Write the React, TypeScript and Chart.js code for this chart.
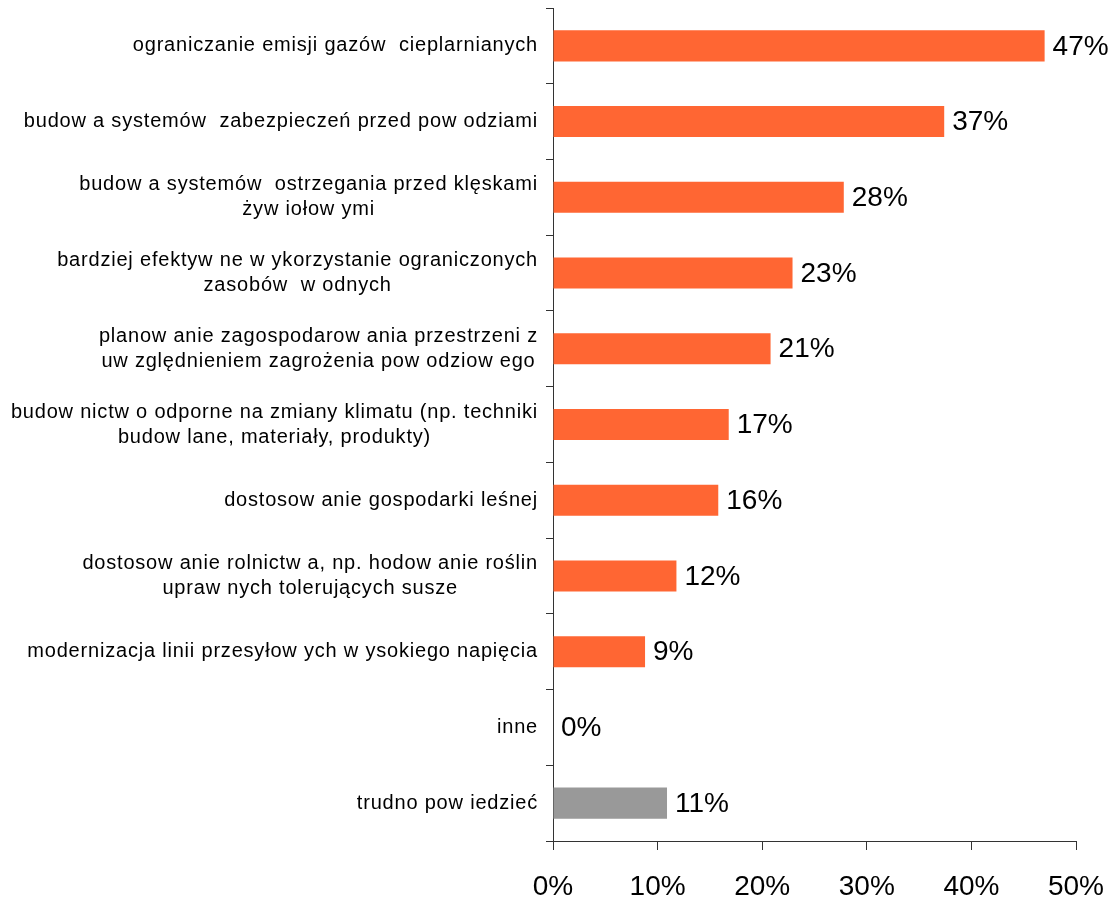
import React, { useEffect, useRef } from "react";
import { Chart, registerables } from "chart.js";

Chart.register(...registerables);

const categories: string[][] = [
  ["ograniczanie emisji gazów  cieplarnianych"],
  ["budow a systemów  zabezpieczeń przed pow odziami"],
  ["budow a systemów  ostrzegania przed klęskami", "żyw iołow ymi"],
  ["bardziej efektyw ne w ykorzystanie ograniczonych", "zasobów  w odnych"],
  ["planow anie zagospodarow ania przestrzeni z", "uw zględnieniem zagrożenia pow odziow ego"],
  ["budow nictw o odporne na zmiany klimatu (np. techniki", "budow lane, materiały, produkty)"],
  ["dostosow anie gospodarki leśnej"],
  ["dostosow anie rolnictw a, np. hodow anie roślin", "upraw nych tolerujących susze"],
  ["modernizacja linii przesyłow ych w ysokiego napięcia"],
  ["inne"],
  ["trudno pow iedzieć"],
];

const values: number[] = [47.0, 37.4, 27.8, 22.9, 20.8, 16.8, 15.8, 11.8, 8.8, 0, 10.9];
const valueLabels: string[] = ["47%", "37%", "28%", "23%", "21%", "17%", "16%", "12%", "9%", "0%", "11%"];
const barColors: string[] = [
  "#FF6633", "#FF6633", "#FF6633", "#FF6633", "#FF6633", "#FF6633",
  "#FF6633", "#FF6633", "#FF6633", "#FF6633", "#999999",
];
const xMin = 0;
const xMax = 50;
const xStep = 10;

const FONT = "'Liberation Sans', Arial, sans-serif";

const labelsPlugin = {
  id: "customLabels",
  afterDraw(chart: any) {
    const ctx = chart.ctx;
    const y = chart.scales.y;
    const x = chart.scales.x;
    ctx.save();
    // category labels: block right-aligned, lines centered to each other
    ctx.font = `20px ${FONT}`;
    try {
      (ctx as any).letterSpacing = "0.8px";
    } catch (e) {}
    ctx.fillStyle = "#000";
    ctx.textBaseline = "middle";
    ctx.textAlign = "center";
    const rightEdge = 538;
    const lineH = 25;
    categories.forEach((lines, i) => {
      const cy = y.getPixelForValue(i);
      const w = Math.max(...lines.map((l) => ctx.measureText(l).width));
      const cx = rightEdge - w / 2;
      const startY = cy - ((lines.length - 1) * lineH) / 2;
      lines.forEach((l, j) => {
        ctx.fillText(l, cx, startY + j * lineH);
      });
    });
    try {
      (ctx as any).letterSpacing = "0px";
    } catch (e) {}
    // value labels
    ctx.font = `28px ${FONT}`;
    ctx.textAlign = "left";
    values.forEach((v, i) => {
      const px = x.getPixelForValue(v);
      const cy = y.getPixelForValue(i);
      ctx.fillText(valueLabels[i], px + 8, cy + 1);
    });
    ctx.restore();
  },
};

export default function App() {
  const ref = useRef<HTMLCanvasElement | null>(null);
  useEffect(() => {
    if (!ref.current) return;
    const chart = new Chart(ref.current, {
      type: "bar",
      data: {
        labels: categories.map((c) => c.join(" ")),
        datasets: [
          {
            data: values,
            backgroundColor: barColors,
            borderWidth: 0,
            categoryPercentage: 1,
            barPercentage: 0.41,
          },
        ],
      },
      options: {
        indexAxis: "y",
        responsive: false,
        animation: false,
        devicePixelRatio: 1,
        layout: { padding: { top: 8, right: 37, left: 0, bottom: 0 } },
        plugins: { legend: { display: false }, tooltip: { enabled: false } },
        scales: {
          y: {
            type: "category",
            offset: true,
            ticks: { display: false },
            grid: {
              offset: true,
              drawOnChartArea: false,
              drawTicks: true,
              tickLength: 7,
              color: "#333",
              lineWidth: 1,
            },
            border: { color: "#333", width: 1 },
            afterFit(scale: any) {
              scale.width = 553;
            },
          },
          x: {
            type: "linear",
            min: xMin,
            max: xMax,
            ticks: {
              stepSize: xStep,
              callback: (v: any) => `${v}%`,
              font: { size: 28, family: FONT },
              color: "#000",
              padding: 20,
              maxRotation: 0,
            },
            grid: {
              drawOnChartArea: false,
              drawTicks: true,
              tickLength: 9,
              color: "#333",
              lineWidth: 1,
            },
            border: { color: "#333", width: 1 },
            afterFit(scale: any) {
              scale.height = 60;
              scale.paddingLeft = 0;
              scale.paddingRight = 0;
            },
          },
        },
      },
      plugins: [labelsPlugin],
    } as any);
    return () => chart.destroy();
  }, []);
  return (
    <div style={{ position: "absolute", left: 0, top: 0, width: 1113, height: 901, background: "#fff" }}>
      <canvas ref={ref} width={1113} height={901} style={{ display: "block" }} />
    </div>
  );
}
